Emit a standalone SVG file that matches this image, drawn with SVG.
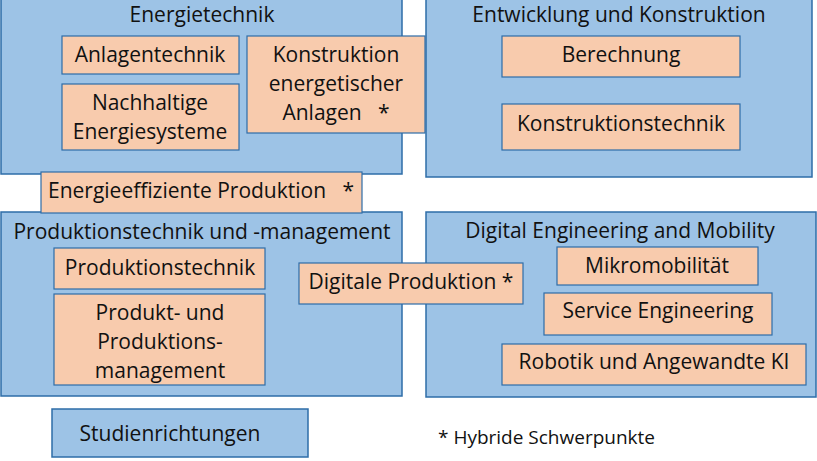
<svg xmlns="http://www.w3.org/2000/svg" width="817" height="461" viewBox="0 0 817 461">
<style>
.area{fill:#9DC3E6;stroke:#2E6DA8;stroke-width:1.5}
.item{fill:#F8CBAD;stroke:#2E6DA8;stroke-width:1.2}
text{font-family:"Open Sans",Lato,"Liberation Sans",sans-serif;font-size:21px;fill:#111;text-anchor:middle;dominant-baseline:central}
</style>
<rect width="817" height="461" fill="#fff"/>
<g id="energietechnik">
<rect class="area" x="1" y="-2" width="401" height="176"/>
<text x="202" y="14">Energietechnik</text>
</g>
<g id="entwicklung">
<rect class="area" x="426" y="-2" width="386" height="179"/>
<text x="619" y="14">Entwicklung und Konstruktion</text>
</g>
<g id="produktion">
<rect class="area" x="1" y="212" width="401" height="184"/>
<text x="202" y="231">Produktionstechnik und -management</text>
</g>
<g id="digital">
<rect class="area" x="426" y="212" width="390" height="185"/>
<text x="620" y="230">Digital Engineering and Mobility</text>
</g>
<g id="anlagentechnik">
<rect class="item" x="62" y="36" width="177" height="38"/>
<text x="150" y="54">Anlagentechnik</text>
</g>
<g id="nachhaltige">
<rect class="item" x="62" y="84" width="177" height="66"/>
<text x="150" y="102">Nachhaltige</text>
<text x="150" y="131">Energiesysteme</text>
</g>
<g id="konstruktion-energetisch">
<rect class="item" x="247" y="36" width="178" height="97"/>
<text x="336" y="54">Konstruktion</text>
<text x="336" y="83">energetischer</text>
<text x="336" y="112" xml:space="preserve">Anlagen   *</text>
</g>
<g id="berechnung">
<rect class="item" x="502" y="36" width="238" height="41"/>
<text x="621" y="54">Berechnung</text>
</g>
<g id="konstruktionstechnik">
<rect class="item" x="502" y="104" width="238" height="46"/>
<text x="621" y="123">Konstruktionstechnik</text>
</g>
<g id="energieeffiziente">
<rect class="item" x="41" y="172" width="321" height="41"/>
<text x="201" y="190" xml:space="preserve">Energieeffiziente Produktion   *</text>
</g>
<g id="produktionstechnik">
<rect class="item" x="54" y="248" width="211" height="41"/>
<text x="160" y="267">Produktionstechnik</text>
</g>
<g id="produktionsmanagement">
<rect class="item" x="54" y="294" width="211" height="91"/>
<text x="160" y="312">Produkt- und</text>
<text x="160" y="341">Produktions-</text>
<text x="160" y="370">management</text>
</g>
<g id="mikromobilitaet">
<rect class="item" x="557" y="247" width="201" height="38"/>
<text x="657" y="265">Mikromobilität</text>
</g>
<g id="service">
<rect class="item" x="544" y="293" width="228" height="42"/>
<text x="658" y="310">Service Engineering</text>
</g>
<g id="robotik">
<rect class="item" x="502" y="344" width="304" height="41"/>
<text x="654" y="361">Robotik und Angewandte KI</text>
</g>
<g id="digitale-produktion">
<rect class="item" x="299" y="263" width="224" height="41"/>
<text x="411" y="281">Digitale Produktion *</text>
</g>
<g id="studienrichtungen">
<rect class="area" x="52" y="409" width="256" height="48"/>
<text x="170" y="433">Studienrichtungen</text>
</g>
<g id="legende">
<text x="438" y="437" style="text-anchor:start;font-size:19px">* Hybride Schwerpunkte</text>
</g>
<g id="connectors"></g>
</svg>
